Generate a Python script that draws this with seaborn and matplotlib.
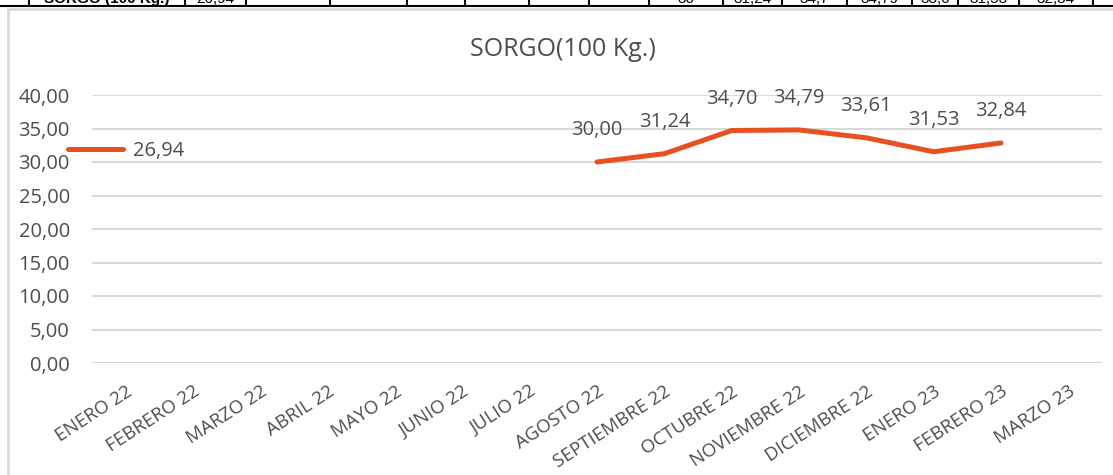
import matplotlib
matplotlib.use("Agg")
import matplotlib.pyplot as plt
import matplotlib.patches as mpatches
import seaborn as sns
import pandas as pd
import numpy as np

# Data
months = ['ENERO 22', 'FEBRERO 22', 'MARZO 22', 'ABRIL 22', 'MAYO 22', 'JUNIO 22',
          'JULIO 22', 'AGOSTO 22', 'SEPTIEMBRE 22', 'OCTUBRE 22', 'NOVIEMBRE 22',
          'DICIEMBRE 22', 'ENERO 23', 'FEBRERO 23', 'MARZO 23']
prices = [np.nan, np.nan, np.nan, np.nan, np.nan, np.nan, np.nan,
          30.00, 31.24, 34.70, 34.79, 33.61, 31.53, 32.84, np.nan]
series_name = '26,94'
title = 'SORGO(100 Kg.)'

# table row cut off at the top of the screenshot
table_texts = ['SORGO (100 Kg.)', '26,94', '', '', '', '', '', '', '30',
               '31,24', '34,7', '34,79', '33,6', '31,53', '32,84']

df = pd.DataFrame({'pos': np.arange(len(months)), 'price': prices})

sns.set_theme(style='white')
plt.rcParams['font.family'] = ['Open Sans', 'DejaVu Sans']
gray = '#4d4d4d'
line_color = '#E9501F'

W, H = 1113, 475
fig = plt.figure(figsize=(W / 100, H / 100), dpi=100)
ax = fig.add_axes([92 / W, (H - 363) / H, (1102 - 92) / W, (363 - 95) / H])

sns.lineplot(data=df, x='pos', y='price', ax=ax, color=line_color, linewidth=3.6,
             label=series_name, solid_capstyle='round', solid_joinstyle='round')

# data labels
for x, v in zip(df['pos'], df['price']):
    if not np.isnan(v):
        ax.annotate(f'{v:.2f}'.replace('.', ','), (x, v), xytext=(0, 23),
                    textcoords='offset points', ha='center', va='center',
                    fontsize=14.5, color=gray)

ax.set_xlim(-0.5, len(months) - 0.5)
ax.set_ylim(0, 40)
ax.set_yticks(np.arange(0, 41, 5))
ax.set_yticklabels([f'{v:.2f}'.replace('.', ',') for v in np.arange(0, 41, 5)],
                   fontsize=14.5, color=gray)
ax.set_xticks(df['pos'])
ax.set_xticklabels(months, rotation=33, ha='right', rotation_mode='anchor',
                   fontsize=13.5, color=gray)
ax.tick_params(axis='y', length=0, pad=16)
ax.tick_params(axis='x', length=0, pad=14)
ax.set_xlabel('')
ax.set_ylabel('')
ax.grid(axis='y', color='#D9D9D9', linewidth=1.5)
ax.set_axisbelow(True)
for s in ax.spines.values():
    s.set_visible(False)

leg = ax.legend(loc='center left', bbox_to_anchor=(68 / W, 1 - 151 / H),
                bbox_transform=fig.transFigure, frameon=False, borderpad=0,
                borderaxespad=0, handlelength=2.75, handletextpad=0.5,
                fontsize=14.5)
for t in leg.get_texts():
    t.set_color(gray)

fig.text(563 / W, 1 - 50 / H, title, ha='center', va='center', fontsize=18, color=gray)

# chart border
fig.patches.append(mpatches.Rectangle((8 / W, -0.02), 1.02, 1 - 9 / H + 0.02,
                                      transform=fig.transFigure, fill=False,
                                      edgecolor='#D9D9D9', linewidth=2))

# cut-off table row above the chart
cell_edges = [29, 185, 246, 330, 407, 465, 529, 589, 649, 723, 782, 847, 912, 958, 1019, 1093]
fig.add_artist(plt.Line2D([0, 1], [1 - 6 / H, 1 - 6 / H], transform=fig.transFigure,
                          color='black', linewidth=1.5))
for e in cell_edges:
    fig.add_artist(plt.Line2D([e / W, e / W], [1 - 6 / H, 1.01], transform=fig.transFigure,
                              color='black', linewidth=1.5))
for i, txt in enumerate(table_texts):
    if txt:
        cx = (cell_edges[i] + cell_edges[i + 1]) / 2 / W
        fig.text(cx, 1 - 3 / H, txt, ha='center', va='baseline', fontsize=11,
                 family='Liberation Sans', weight='bold' if i == 0 else 'normal',
                 color='black')

fig.savefig('out.png', dpi=100)
